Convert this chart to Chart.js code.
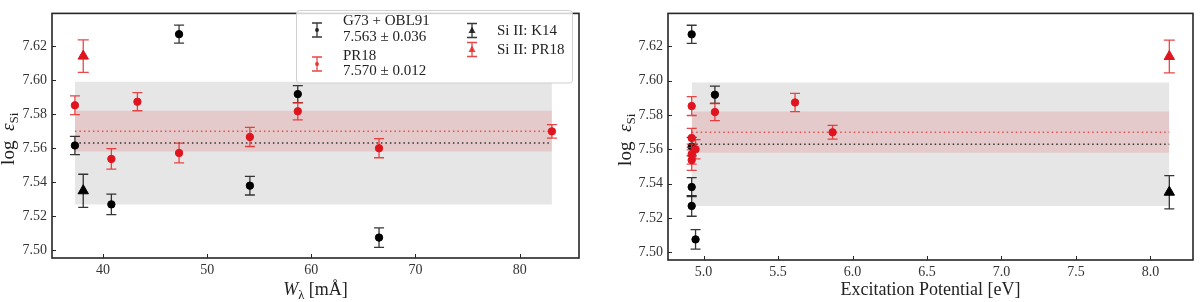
<!DOCTYPE html>
<html>
<head>
<meta charset="utf-8">
<script src="https://cdn.jsdelivr.net/npm/chart.js@4.4.1/dist/chart.umd.min.js"></script>
<style>
html, body { margin:0; padding:0; background:#fff; }
#wrap { position:relative; width:1200px; height:302px; }
.panel { position:absolute; top:0; width:600px; height:302px; }
</style>
</head>
<body>
<div id="wrap">
  <div class="panel" style="left:0"><canvas id="left" width="600" height="302"></canvas></div>
  <div class="panel" style="left:600px"><canvas id="right" width="600" height="302"></canvas></div>
</div>
<script>
// Si I lines, G73 + OBL91
const g73W    = [37.3, 40.8, 47.3, 54.1, 58.7, 66.5];
const g73EP   = [4.92, 4.92, 4.92, 4.92, 5.076, 4.946];
const g73Abu  = [7.5616, 7.527, 7.627, 7.538, 7.5918, 7.5075];
const g73Err  = [0.0054, 0.006, 0.0053, 0.0055, 0.005, 0.0057];
// Si I lines, PR18
const pr18W   = [37.3, 40.8, 43.3, 47.3, 54.1, 58.7, 66.5, 83.1];
const pr18EP  = [4.92, 4.92, 5.614, 4.92, 4.92, 5.076, 4.946, 5.866];
const pr18Abu = [7.5852, 7.5537, 7.5873, 7.5572, 7.5666, 7.5817, 7.560, 7.5699];
const pr18Err = [0.0055, 0.006, 0.0053, 0.0058, 0.0056, 0.005, 0.0056, 0.004];
// Si II lines
const siiW    = [38.1];
const siiEP   = [8.127];
const k14Abu  = [7.535];
const k14Err  = [0.0097];
const siiPrAbu = [7.6141];
const siiPrErr = [0.0095];
// mean and scatter
const meanG73 = 7.563, stdG73 = 0.036;
const meanPR18 = 7.570, stdPR18 = 0.012;
// ticks
const yTicks  = [7.50, 7.52, 7.54, 7.56, 7.58, 7.60, 7.62];
const wTicks  = [40, 50, 60, 70, 80];
const epTicks = [5.0, 5.5, 6.0, 6.5, 7.0, 7.5, 8.0];

const FONT = '"Liberation Serif", "DejaVu Serif", serif';
const RED = '#e0141e';
const RED_ERR = 'rgba(228,40,40,0.85)';
const BLK_ERR = 'rgba(20,20,20,0.85)';

const pts = (xs, ys) => xs.map((x, i) => ({ x: x, y: ys[i] }));

function drawRich(ctx, segs, cx, cy, size, rot) {
  ctx.save();
  ctx.translate(cx, cy);
  if (rot) ctx.rotate(-Math.PI / 2);
  ctx.fillStyle = '#222';
  ctx.textBaseline = 'middle';
  ctx.textAlign = 'left';
  const fontOf = s => (s.it ? 'italic ' : '') + (s.sub ? size * 0.7 : size) + 'px ' + FONT;
  let w = 0;
  segs.forEach(s => { ctx.font = fontOf(s); w += ctx.measureText(s.t).width; });
  let x = -w / 2;
  segs.forEach(s => {
    ctx.font = fontOf(s);
    ctx.fillText(s.t, x, s.sub ? size * 0.3 : 0);
    x += ctx.measureText(s.t).width;
  });
  ctx.restore();
}

function errSymbol(ctx, x, y, col, tri) {
  ctx.strokeStyle = col;
  ctx.fillStyle = col;
  ctx.lineWidth = 1.3;
  ctx.beginPath();
  ctx.moveTo(x, y - 7); ctx.lineTo(x, y + 7);
  ctx.moveTo(x - 5, y - 7); ctx.lineTo(x + 5, y - 7);
  ctx.moveTo(x - 5, y + 7); ctx.lineTo(x + 5, y + 7);
  ctx.stroke();
  ctx.beginPath();
  if (tri) { ctx.moveTo(x, y - 4); ctx.lineTo(x + 3.5, y + 2.5); ctx.lineTo(x - 3.5, y + 2.5); ctx.closePath(); }
  else ctx.arc(x, y, 2, 0, Math.PI * 2);
  ctx.fill();
}

function drawLegend(ctx) {
  ctx.save();
  ctx.beginPath();
  ctx.roundRect(296.5, 10.5, 276, 72.5, 3);
  ctx.fillStyle = 'rgba(255,255,255,0.8)';
  ctx.fill();
  ctx.strokeStyle = '#d0d0d0';
  ctx.lineWidth = 1;
  ctx.stroke();
  errSymbol(ctx, 317, 30, BLK_ERR, false);
  errSymbol(ctx, 317, 64, RED_ERR, false);
  errSymbol(ctx, 472, 30.5, BLK_ERR, true);
  errSymbol(ctx, 472, 49.5, RED_ERR, true);
  ctx.fillStyle = '#222';
  ctx.font = '15px ' + FONT;
  ctx.textBaseline = 'middle';
  ctx.fillText('G73 + OBL91', 343, 21.5);
  ctx.fillText(meanG73.toFixed(3) + ' \u00b1 ' + stdG73.toFixed(3), 343, 37.5);
  ctx.fillText('PR18', 343, 56);
  ctx.fillText(meanPR18.toFixed(3) + ' \u00b1 ' + stdPR18.toFixed(3), 343, 71.5);
  ctx.fillText('Si II: K14', 497, 31.5);
  ctx.fillText('Si II: PR18', 497, 50);
  ctx.restore();
}

const frame = {
  id: 'frame',
  beforeDatasetDraw(chart, args) {
    const ds = chart.data.datasets[args.index];
    if (!ds.errY) return;
    const xs = chart.scales.x, ys = chart.scales.y, ctx = chart.ctx;
    ctx.save();
    ctx.strokeStyle = ds.errColor;
    ctx.lineWidth = 1.3;
    ds.data.forEach((p, i) => {
      const px = xs.getPixelForValue(p.x);
      const t = ys.getPixelForValue(p.y + ds.errY[i]);
      const b = ys.getPixelForValue(p.y - ds.errY[i]);
      ctx.beginPath();
      ctx.moveTo(px, t); ctx.lineTo(px, b);
      ctx.moveTo(px - ds.cap, t); ctx.lineTo(px + ds.cap, t);
      ctx.moveTo(px - ds.cap, b); ctx.lineTo(px + ds.cap, b);
      ctx.stroke();
    });
    ctx.restore();
  },
  afterDraw(chart, args, opts) {
    const ctx = chart.ctx, a = chart.chartArea;
    const xs = chart.scales.x, ys = chart.scales.y;
    ctx.save();
    ctx.strokeStyle = '#262626';
    ctx.lineWidth = 1.6;
    ctx.strokeRect(a.left, a.top, a.right - a.left, a.bottom - a.top);
    ctx.lineWidth = 1;
    ctx.beginPath();
    opts.yt.forEach(v => { const p = Math.round(ys.getPixelForValue(v)) + 0.5; ctx.moveTo(a.left, p); ctx.lineTo(a.left + 4, p); });
    opts.xt.forEach(v => { const p = Math.round(xs.getPixelForValue(v)) + 0.5; ctx.moveTo(p, a.bottom); ctx.lineTo(p, a.bottom - 4); });
    ctx.stroke();
    ctx.restore();
    drawRich(ctx, opts.xTitle, (a.left + a.right) / 2, 290, 18, false);
    drawRich(ctx, [{ t: 'log\u2002' }, { t: '\u03b5', it: true }, { t: 'Si', sub: true }], opts.yTitleX, (a.top + a.bottom) / 2 + 3, 19, true);
    if (opts.legend) drawLegend(ctx);
  }
};

function makeChart(id, gx, px, sx, xmin, xmax, xt, fmt, pad, xh, yw, opts) {
  const allX = gx.concat(px, sx);
  const x0 = Math.min(...allX), x1 = Math.max(...allX);
  const span = y => [{ x: x0, y: y }, { x: x1, y: y }];
  new Chart(document.getElementById(id), {
    type: 'scatter',
    data: {
      datasets: [
        { type: 'line', data: span(meanG73 + stdG73), fill: { value: meanG73 - stdG73 }, backgroundColor: 'rgba(128,128,128,0.2)', borderWidth: 0, pointRadius: 0, order: 9 },
        { type: 'line', data: span(meanPR18 + stdPR18), fill: { value: meanPR18 - stdPR18 }, backgroundColor: 'rgba(215,30,30,0.14)', borderWidth: 0, pointRadius: 0, order: 8 },
        { type: 'line', data: span(meanG73), borderColor: '#333', borderWidth: 1.5, borderDash: [1.5, 3], pointRadius: 0, fill: false, order: 7 },
        { type: 'line', data: span(meanPR18), borderColor: '#e8504f', borderWidth: 1.5, borderDash: [1.5, 3], pointRadius: 0, fill: false, order: 6 },
        { data: pts(gx, g73Abu), errY: g73Err, errColor: BLK_ERR, cap: 5, backgroundColor: '#000', borderColor: '#000', pointRadius: 3.7, order: 5 },
        { data: pts(sx, k14Abu), errY: k14Err, errColor: BLK_ERR, cap: 5, pointStyle: 'triangle', backgroundColor: '#000', borderColor: '#000', pointRadius: 6, order: 4 },
        { data: pts(px, pr18Abu), errY: pr18Err, errColor: RED_ERR, cap: 5, backgroundColor: RED, borderColor: RED, pointRadius: 3.7, order: 3 },
        { data: pts(sx, siiPrAbu), errY: siiPrErr, errColor: RED_ERR, cap: 5.5, pointStyle: 'triangle', backgroundColor: RED, borderColor: RED, pointRadius: 6, order: 2 }
      ]
    },
    options: {
      responsive: false,
      animation: false,
      layout: { padding: pad },
      plugins: { legend: { display: false }, tooltip: { enabled: false }, frame: opts },
      scales: {
        x: {
          type: 'linear', min: xmin, max: xmax,
          afterBuildTicks: s => { s.ticks = xt.map(v => ({ value: v })); },
          afterFit: s => { s.height = xh; },
          grid: { display: false, drawTicks: false },
          border: { display: false },
          ticks: { callback: fmt, font: { family: FONT, size: 14 }, color: '#333', padding: 4, maxRotation: 0, autoSkip: false }
        },
        y: {
          min: 7.4955, max: 7.6392,
          afterBuildTicks: s => { s.ticks = yTicks.map(v => ({ value: v })); },
          afterFit: s => { s.width = yw; },
          grid: { display: false, drawTicks: false },
          border: { display: false },
          ticks: { callback: v => v.toFixed(2), font: { family: FONT, size: 14 }, color: '#333', padding: 5, autoSkip: false }
        }
      }
    },
    plugins: [frame]
  });
}

makeChart('left', g73W, pr18W, siiW, 35.1, 85.7, wTicks, v => String(v),
  { left: 0, top: 3, right: 21, bottom: 0 }, 44, 52,
  { xt: wTicks, yt: yTicks, legend: true, yTitleX: 9,
    xTitle: [{ t: 'W', it: true }, { t: '\u03bb', sub: true }, { t: ' [m\u00c5]' }] });

makeChart('right', g73EP, pr18EP, siiEP, 4.761, 8.286, epTicks, v => v.toFixed(1),
  { left: 0, top: 5, right: 4, bottom: 0 }, 42, 68,
  { xt: epTicks, yt: yTicks, legend: false, yTitleX: 26,
    xTitle: [{ t: 'Excitation Potential [eV]' }] });
</script>
</body>
</html>
